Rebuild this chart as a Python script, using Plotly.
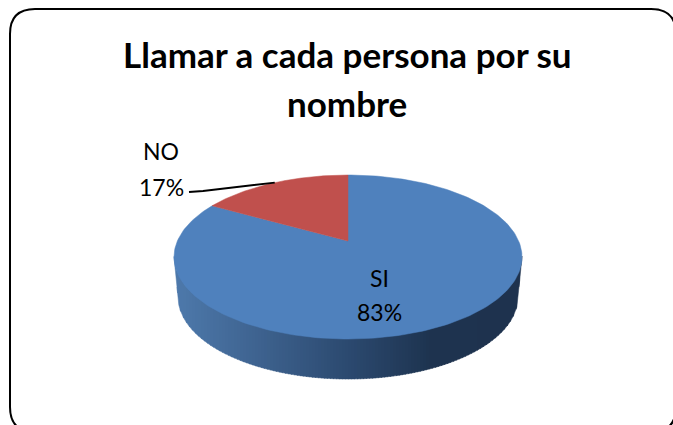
import numpy as np
import plotly.graph_objects as go

# ---- data ----
title_lines = ["Llamar a cada persona por su", "nombre"]
categories = ["SI", "NO"]
percents = [83, 17]
colors = ["#4F81BD", "#C0504D"]

# ---- page-space drawing frame (perspective pie geometry) ----
W, H = 673, 425
CX, CY, A, B = 348, 257, 174, 82          # top ellipse
APEX_Y = 241                               # where the slices meet
BX, BY, BA, BB = 348, 297, 170, 82         # bottom rim of wall
K = B / A


def rim_point(theta):
    """Point on the top ellipse for a clockwise angle from 12 o'clock."""
    dx, dy = np.sin(theta), -np.cos(theta) * K
    oy = APEX_Y - CY
    a = (dx / A) ** 2 + (dy / B) ** 2
    b = 2 * oy * dy / B ** 2
    c = (oy / B) ** 2 - 1
    s = (-b + np.sqrt(b * b - 4 * a * c)) / (2 * a)
    return CX + dx * s, APEX_Y + dy * s


def slice_xy(start, end):
    th = np.linspace(start, end, 240)
    pts = [rim_point(t) for t in th]
    xs = [CX] + [p[0] for p in pts] + [CX]
    ys = [APEX_Y] + [p[1] for p in pts] + [APEX_Y]
    return xs, ys


def wall_bottom(xs):
    """Lower wall edge: bottom ellipse, with slanted ends up to the top ellipse."""
    d = np.abs(xs - BX)
    inside = BY + BB * np.sqrt(np.clip(1 - (d / BA) ** 2, 0, 1))
    outside = CY + (BY - CY) * (A - d) / (A - BA)
    return np.where(d <= BA, inside, outside)


fig = go.Figure()

# side wall: thin vertical strips shaded left to right
stops_x = [174, 240, 348, 430, 522]
stops_rgb = np.array([[78, 122, 172], [66, 104, 150], [44, 74, 112], [30, 52, 80], [30, 50, 78]])
edges = np.arange(174, 523, 3.0)
for x0, x1 in zip(edges[:-1], edges[1:]):
    xs = np.clip(np.linspace(x0, x1 + 0.6, 5), CX - A, CX + A)
    top = CY + B * np.sqrt(np.clip(1 - ((xs - CX) / A) ** 2, 0, 1)) - 1
    bot = wall_bottom(xs)
    mid = (x0 + x1) / 2
    rgb = [int(np.interp(mid, stops_x, stops_rgb[:, i])) for i in range(3)]
    col = f"rgb({rgb[0]},{rgb[1]},{rgb[2]})"
    fig.add_trace(go.Scatter(
        x=list(xs) + list(xs[::-1]), y=list(top) + list(bot[::-1]),
        mode="lines", fill="toself", fillcolor=col,
        line=dict(color=col, width=0.5), hoverinfo="skip", showlegend=False))

# top face slices, clockwise from 12 o'clock
total = sum(percents)
angle = 0.0
mid_angles = []
for cat, pct, col in zip(categories, percents, colors):
    span = 2 * np.pi * pct / total
    xs, ys = slice_xy(angle, angle + span)
    fig.add_trace(go.Scatter(
        x=xs, y=ys, mode="lines", fill="toself", fillcolor=col,
        line=dict(color=col, width=0.5), name=cat, hoverinfo="skip", showlegend=False))
    mid_angles.append(angle + span / 2)
    angle += span

# leader line of the small slice
ex, ey = rim_point(mid_angles[1])
fig.add_trace(go.Scatter(
    x=[189, 203, ex], y=[192, 191, ey], mode="lines",
    line=dict(color="black", width=2), hoverinfo="skip", showlegend=False))

TITLE_FONT = dict(size=35, family="Lato", color="black")
LABEL_FONT = dict(size=23, family="Lato", color="black")
annotations = [
    dict(x=347, y=54, text=f"<b>{title_lines[0]}</b>", font=TITLE_FONT),
    dict(x=347, y=103, text=f"<b>{title_lines[1]}</b>", font=TITLE_FONT),
    dict(x=161, y=151, text=categories[1], font=LABEL_FONT),
    dict(x=161, y=187, text=f"{percents[1]}%", font=LABEL_FONT),
    dict(x=379, y=278, text=categories[0], font=LABEL_FONT),
    dict(x=379, y=312, text=f"{percents[0]}%", font=LABEL_FONT),
]
for a in annotations:
    a.update(xref="x", yref="y", showarrow=False, xanchor="center", yanchor="middle")

fig.update_layout(
    width=W, height=H, margin=dict(l=0, r=0, t=0, b=0),
    paper_bgcolor="white", plot_bgcolor="white", showlegend=False,
    xaxis=dict(range=[0, W], visible=False, fixedrange=True),
    yaxis=dict(range=[H, 0], visible=False, fixedrange=True),
    annotations=annotations,
    shapes=[dict(type="path", xref="x", yref="y",
                 path="M 10 34 Q 10 9 35 9 L 651 9 Q 676 9 676 34 L 676 407 Q 676 432 651 432 L 35 432 Q 10 432 10 407 Z",
                 line=dict(color="black", width=2), fillcolor="rgba(0,0,0,0)", layer="above")],
)

fig.write_html("out.html", config={"displayModeBar": False},
               post_script="document.body.style.margin='0';document.body.style.overflow='hidden';")
